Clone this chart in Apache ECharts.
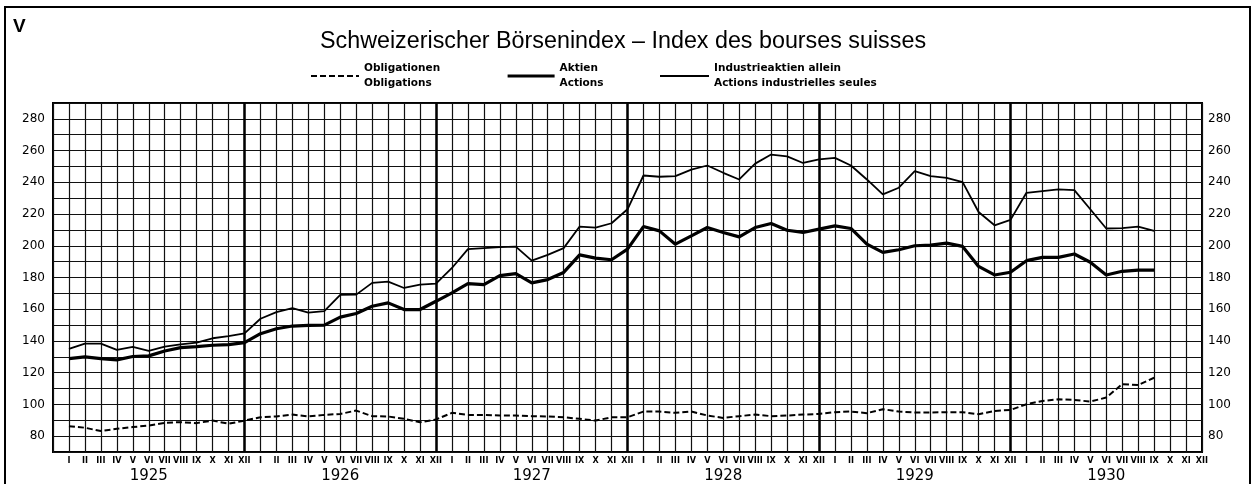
<!DOCTYPE html>
<html><head><meta charset="utf-8">
<script src="https://cdn.jsdelivr.net/npm/echarts@6/dist/echarts.min.js"></script>
<style>html,body{margin:0;padding:0;background:#fff}#c{width:1254px;height:484px}</style>
</head><body><div id="c"></div>
<script>
// Months (Roman numerals) and years on the time axis
const months = ['I','II','III','IV','V','VI','VII','VIII','IX','X','XI','XII'];
const years = ['1925','1926','1927','1928','1929','1930'];
// Index values, Jan 1925 .. Sep 1930
const obligationen = [
  86.3, 85.3, 83.2, 84.6, 85.7, 86.7, 88.4, 88.8, 88.2, 89.8, 87.8, 89.8,
  91.9, 92.4, 93.6, 92.4, 93.4, 94.0, 96.1, 92.6, 92.4, 90.9, 88.8, 90.5,
  94.7, 93.4, 93.4, 93.0, 93.0, 92.6, 92.4, 91.9, 90.9, 89.8, 91.9, 91.9,
  95.5, 95.5, 94.7, 95.5, 93.0, 91.5, 92.6, 93.6, 92.6, 93.0, 93.6, 94.0,
  95.1, 95.5, 94.5, 97.0, 95.5, 94.9, 94.9, 95.1, 95.1, 93.8, 95.9, 96.5,
  100.1, 102.2, 103.2, 102.8, 101.8, 104.3, 112.8, 112.2, 116.8
];
const aktien = [
  128.9, 130.0, 128.9, 128.1, 130.2, 130.6, 133.7, 135.8, 136.4, 137.3, 137.7, 139.0,
  144.6, 147.7, 149.4, 149.8, 150.0, 155.0, 157.3, 161.9, 164.0, 159.8, 159.8, 165.0,
  170.3, 176.1, 175.5, 181.2, 182.4, 176.6, 178.7, 183.2, 194.3, 192.2, 191.2, 197.9,
  212.1, 209.4, 201.0, 206.2, 211.5, 208.4, 205.6, 211.5, 214.0, 209.8, 208.4, 210.5,
  212.5, 210.9, 201.0, 195.8, 197.5, 200.0, 200.4, 201.7, 199.6, 187.0, 181.6, 183.3,
  190.6, 192.7, 192.7, 194.8, 189.6, 181.6, 183.9, 184.7, 184.7
];
const industrie = [
  135.0, 138.3, 138.3, 134.4, 136.2, 133.7, 136.4, 137.9, 139.0, 141.7, 143.1, 144.8,
  154.0, 158.2, 160.7, 157.8, 158.8, 169.0, 169.2, 176.6, 177.4, 173.4, 175.5, 176.1,
  186.0, 197.9, 198.5, 199.1, 199.5, 190.6, 194.3, 198.5, 212.1, 211.5, 214.2, 223.0,
  244.3, 243.5, 243.9, 248.0, 250.6, 246.0, 241.8, 251.8, 257.5, 256.4, 252.2, 254.5,
  255.4, 250.6, 241.8, 232.4, 236.6, 247.0, 243.9, 242.8, 240.1, 221.3, 212.9, 216.3,
  233.4, 234.5, 235.5, 235.1, 223.0, 210.9, 211.1, 212.1, 209.4
];
const yTicks = [80, 100, 120, 140, 160, 180, 200, 220, 240, 260, 280];
const yearEnds = [12, 24, 36, 48, 60];
const names = ['Obligationen', 'Aktien', 'Industrieaktien allein'];
const names2 = ['Obligations', 'Actions', 'Actions industrielles seules'];
const titleText = 'Schweizerischer Börsenindex – Index des bourses suisses';

const toPts = arr => arr.map((v, i) => [i + 1, v]);
const ff = "'Liberation Sans', Arial, sans-serif";
const legendText = {fontSize: 10.5, fontWeight: 'bold', lineHeight: 15, fontFamily: "'DejaVu Sans', sans-serif", color: '#000'};
const legendFmt = n => n + '\n' + names2[names.indexOf(n)];
const legendBase = {top: 61, padding: 0, itemHeight: 12, formatter: legendFmt, textStyle: legendText,
  itemStyle: {opacity: 0}, selectedMode: false};

const chart = echarts.init(document.getElementById('c'), null, {renderer: 'canvas'});
chart.setOption({
  animation: false,
  backgroundColor: '#fff',
  title: {
    text: titleText, left: 320, top: 30, padding: 0,
    textStyle: {fontSize: 23.3, fontWeight: 'normal', fontFamily: ff, color: '#000'}
  },
  graphic: [
    {type: 'rect', shape: {x: 5, y: 7, width: 1245, height: 490}, style: {fill: 'none', stroke: '#000', lineWidth: 2}},
    {type: 'text', left: 13, top: 17, style: {text: 'V', fontSize: 19, fontWeight: 'bold', fontFamily: ff, fill: '#000'}}
  ],
  legend: [
    Object.assign({data: [names[0]], left: 310, itemWidth: 48}, legendBase),
    Object.assign({data: [names[1]], left: 506, itemWidth: 47, lineStyle: {width: 3.2}}, legendBase),
    Object.assign({data: [names[2]], left: 659, itemWidth: 49}, legendBase)
  ],
  grid: {left: 53, right: 52, top: 103, bottom: 30, show: true, borderColor: '#000', borderWidth: 2, backgroundColor: 'transparent'},
  xAxis: [
    {
      type: 'value', min: 0, max: 72, interval: 1, position: 'bottom',
      axisLine: {show: false}, axisTick: {show: false},
      splitLine: {show: true, lineStyle: {color: '#111', width: 1.2}},
      axisLabel: {
        margin: 4, fontSize: 9, fontWeight: 'bold', color: '#000',
        fontFamily: "'DejaVu Sans Condensed', 'Liberation Sans Narrow', sans-serif",
        formatter: v => (v >= 1 ? months[(v - 1) % 12] : '')
      }
    },
    {
      type: 'value', min: 0, max: 72, interval: 6, position: 'bottom', offset: 14,
      axisLine: {show: false}, axisTick: {show: false}, splitLine: {show: false},
      axisLabel: {
        margin: 3, fontSize: 15, color: '#000', fontFamily: "'DejaVu Sans', sans-serif",
        formatter: v => (v % 12 === 6 ? years[(v - 6) / 12] : '')
      }
    }
  ],
  yAxis: [
    {
      type: 'value', min: 70, max: 290, interval: 10, position: 'left',
      axisLine: {show: false}, axisTick: {show: false},
      splitLine: {show: true, lineStyle: {color: '#111', width: 1.2}},
      axisLabel: {
        margin: 8, fontSize: 12, color: '#000', padding: [0, 0, 5, 0],
        fontFamily: "'DejaVu Sans', sans-serif",
        formatter: v => (yTicks.includes(v) ? String(v) : '')
      }
    },
    {
      type: 'value', min: 70, max: 290, interval: 10, position: 'right',
      axisLine: {show: false}, axisTick: {show: false}, splitLine: {show: false},
      axisLabel: {
        margin: 6, fontSize: 12, color: '#000', padding: [0, 0, 5, 0],
        fontFamily: "'DejaVu Sans', sans-serif",
        formatter: v => (yTicks.includes(v) ? String(v) : '')
      }
    }
  ],
  series: [
    {
      name: names[0], type: 'line', xAxisIndex: 0, yAxisIndex: 0, symbol: 'none',
      data: toPts(obligationen),
      lineStyle: {color: '#000', width: 2, type: [6, 3]}, itemStyle: {color: '#000'},
      markLine: {
        silent: true, symbol: 'none', label: {show: false},
        lineStyle: {color: '#000', width: 2.5, type: 'solid'},
        data: yearEnds.map(v => ({xAxis: v}))
      }
    },
    {
      name: names[1], type: 'line', xAxisIndex: 0, yAxisIndex: 0, symbol: 'none',
      data: toPts(aktien),
      lineStyle: {color: '#000', width: 3.2}, itemStyle: {color: '#000'}
    },
    {
      name: names[2], type: 'line', xAxisIndex: 0, yAxisIndex: 0, symbol: 'none',
      data: toPts(industrie),
      lineStyle: {color: '#000', width: 1.8}, itemStyle: {color: '#000'}
    }
  ]
});
</script>
</body></html>
